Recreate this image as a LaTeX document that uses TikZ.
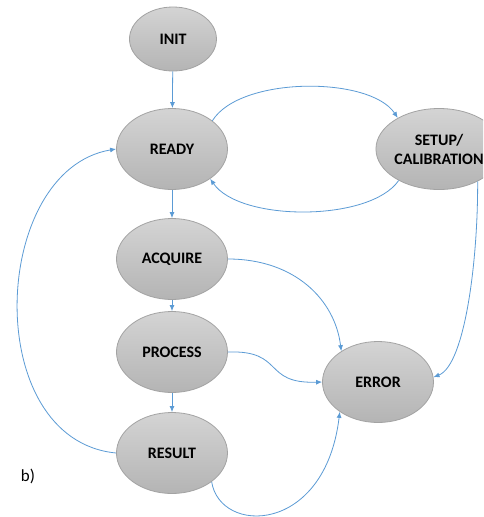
\documentclass[tikz,border=0pt]{standalone}
\usepackage{fontspec}
\setmainfont{Carlito}
\usetikzlibrary{shapes.geometric,arrows.meta}
\definecolor{edgeblue}{HTML}{5B9BD5}
\definecolor{stopbg}{HTML}{D4D4D4}
\definecolor{sbot}{HTML}{B4B4B4}
\definecolor{sborder}{HTML}{A3A3A3}
\tikzset{
  state/.style={ellipse, draw=sborder, line width=0.8pt, top color=stopbg, bottom color=sbot,
    minimum width=111pt, minimum height=81pt, inner sep=0pt, align=center,
    font=\fontsize{16}{19}\selectfont\bfseries},
  smallstate/.style={state, minimum width=87pt, minimum height=64pt},
  conn/.style={draw=edgeblue, line width=0.8pt, -{Latex[length=6pt,width=5pt]}}
}
\begin{document}
\begin{tikzpicture}[x=1pt,y=-1pt]
\clip (0,0) rectangle (483,517);
\fill[white] (0,0) rectangle (483,517);
\node[smallstate] (init) at (173,39) {INIT};
\node[state] (ready) at (172,149) {READY};
\node[state] (setup) at (439,149) {SETUP/\\CALIBRATION};
\node[state] (acquire) at (172,259) {ACQUIRE};
\node[state] (process) at (172,352) {PROCESS};
\node[state] (result) at (172,453) {RESULT};
\node[state] (error) at (378,382) {ERROR};
\node[font=\fontsize{17}{20}\selectfont] (lbl) at (28,476) {b)};

\draw[conn] (init) -- (ready);
\draw[conn] (ready) -- (acquire);
\draw[conn] (acquire) -- (process);
\draw[conn] (process) -- (result);
\draw[conn] (ready.35) .. controls (240,76) and (370,76) .. (setup.143);
\draw[conn] (setup.218) .. controls (370,222) and (240,222) .. (ready.322);
\draw[conn] (acquire.east) .. controls (295,259) and (335,300) .. (error.140);
\draw[conn] (process.east) .. controls (285,350) and (262,384) .. (error.west);
\draw[conn] (setup.320) .. controls (478,260) and (465,365) .. (error.5);
\draw[conn] (result.324) .. controls (220,535) and (325,535) .. (error.218);
\draw[conn] (result.west) .. controls (-20,440) and (-10,170) .. (ready.west);
\end{tikzpicture}
\end{document}
